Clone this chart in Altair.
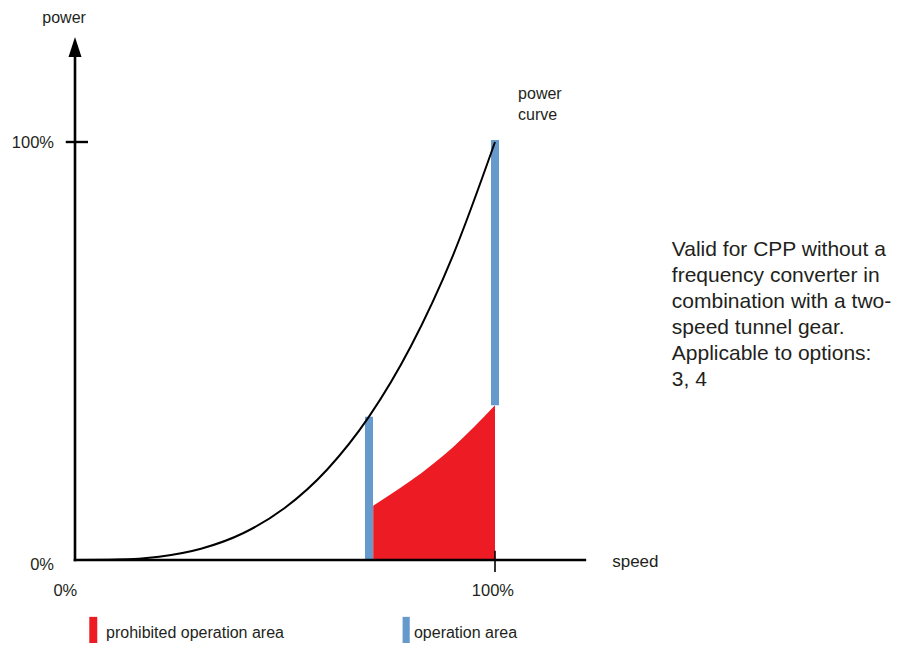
import altair as alt
import pandas as pd

# ---- data (speed and power as fractions of 100%) ----
curve_speed = [0.0, 0.1, 0.2, 0.3, 0.4, 0.5, 0.6, 0.7, 0.8, 0.9, 1.0]
curve_power = [0.0, 0.001, 0.008, 0.027, 0.064, 0.125, 0.216, 0.343, 0.512, 0.729, 1.0]

prohib_speed = [0.71, 0.75, 0.80, 0.85, 0.90, 0.95, 1.0]
prohib_power = [0.13, 0.156, 0.19, 0.228, 0.27, 0.318, 0.37]

op_speed = [0.70, 1.0]
op_low = [0.0, 0.37]
op_high = [0.343, 1.005]

legend_labels = ["prohibited operation area", "operation area"]

note_text = ("Valid for CPP without a\nfrequency converter in\ncombination with a two-\n"
             "speed tunnel gear.\nApplicable to options:\n3, 4")

RED = "#ED1C24"
BLUE = "#6699CC"
FONT = "Liberation Sans"

xs = alt.Scale(domain=[0, 1], nice=False, zero=False)
ys = alt.Scale(domain=[0, 1], nice=False, zero=False)


def X(f):
    return alt.X(f, type="quantitative", scale=xs, axis=None)


def Y(f):
    return alt.Y(f, type="quantitative", scale=ys, axis=None)


# prohibited area
prohib = pd.DataFrame({"s": prohib_speed, "p": prohib_power, "z": [0.0] * len(prohib_speed)})
area = alt.Chart(prohib).mark_area(color=RED, interpolate="monotone").encode(
    x=X("s"), y=Y("p"), y2="z")

# operation bars
ops = pd.DataFrame({"s": op_speed, "lo": op_low, "hi": op_high})
opbars = alt.Chart(ops).mark_rule(color=BLUE, strokeWidth=8).encode(
    x=X("s"), y=Y("lo"), y2="hi")

# power curve
cdf = pd.DataFrame({"s": curve_speed, "p": curve_power})
curve = alt.Chart(cdf).mark_line(color="black", strokeWidth=2, interpolate="monotone").encode(
    x=X("s"), y=Y("p"))

# axes
xaxis = alt.Chart(pd.DataFrame({"s": [0.0], "s2": [1.214], "p": [0.0]})).mark_rule(
    color="black", strokeWidth=2.6, strokeCap="square").encode(x=X("s"), x2="s2", y=Y("p"))
yaxis = alt.Chart(pd.DataFrame({"s": [0.0], "p": [0.0], "p2": [1.205]})).mark_rule(
    color="black", strokeWidth=2.6, strokeCap="square").encode(x=X("s"), y=Y("p"), y2="p2")
arrow = alt.Chart(pd.DataFrame({"s": [0.0], "p": [1.227]})).mark_point(
    shape="M0,-1L0.65,1L-0.65,1Z", size=400, filled=True, color="black", opacity=1,
    strokeWidth=0).encode(x=X("s"), y=Y("p"))

ytick = alt.Chart(pd.DataFrame({"s": [-0.022], "s2": [0.031], "p": [1.0]})).mark_rule(
    color="black", strokeWidth=2.4).encode(x=X("s"), x2="s2", y=Y("p"))
xtick = alt.Chart(pd.DataFrame({"s": [1.0], "p": [0.022], "p2": [-0.029]})).mark_rule(
    color="black", strokeWidth=1.6).encode(x=X("s"), y=Y("p"), y2="p2")


def label(text, s, p, align="left", baseline="alphabetic", size=16, line_height=None):
    kw = dict(align=align, baseline=baseline, fontSize=size, font=FONT, color="#231F20")
    if line_height is not None:
        kw["lineBreak"] = "\n"
        kw["lineHeight"] = line_height
    return alt.Chart(pd.DataFrame({"t": [text], "s": [s], "p": [p]})).mark_text(**kw).encode(
        x=X("s"), y=Y("p"), text="t:N")


labels = [
    label("power", -0.026, 1.285, align="center"),
    label("100%", -0.05, 0.998, align="right", baseline="middle", size=16.5),
    label("0%", -0.05, -0.012, align="right", baseline="middle", size=16.5),
    label("0%", -0.023, -0.074, align="center", baseline="middle", size=16.5),
    label("100%", 0.995, -0.074, align="center", baseline="middle", size=16.5),
    label("speed", 1.279, -0.017, size=17),
    label("power\ncurve", 1.055, 1.103, size=16, line_height=21),
    label(note_text, 1.421, 0.727, size=21, line_height=26),
]

# manual legend
leg_rect = pd.DataFrame({
    "s": [0.034, 0.780], "s2": [0.053, 0.797],
    "p": [-0.136, -0.136], "p2": [-0.22, -0.22],
    "c": legend_labels,
})
legrects = alt.Chart(leg_rect).mark_rect().encode(
    x=X("s"), x2="s2", y=Y("p"), y2="p2",
    color=alt.Color("c:N", scale=alt.Scale(domain=legend_labels, range=[RED, BLUE]), legend=None))
leg_text = pd.DataFrame({"t": legend_labels, "s": [0.074, 0.807], "p": [-0.1866, -0.1866]})
legtexts = alt.Chart(leg_text).mark_text(
    align="left", baseline="alphabetic", fontSize=16, font=FONT, color="#231F20").encode(
    x=X("s"), y=Y("p"), text="t:N")

chart = alt.layer(
    area, opbars, curve, xaxis, yaxis, arrow, ytick, xtick, legrects, legtexts, *labels
).properties(
    width=420, height=418,
    padding={"left": 67, "top": 134, "right": 404, "bottom": 83},
    autosize=alt.AutoSizeParams(type="none"),
    background="white",
).configure_view(stroke=None)

chart.save("out.html", embed_options={"renderer": "svg", "actions": False})
